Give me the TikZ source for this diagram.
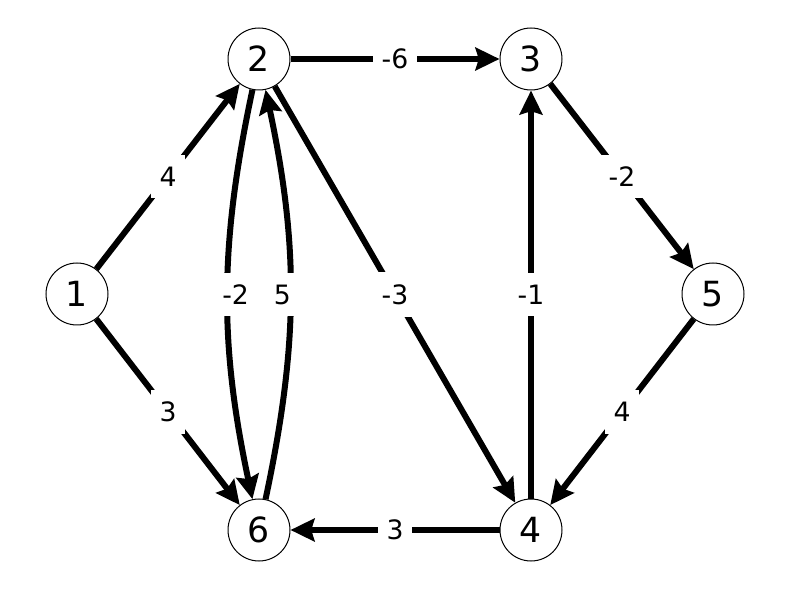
\documentclass[tikz,border=0pt]{standalone}
\usepackage{fontspec}
\setmainfont{DejaVu Sans}
\usetikzlibrary{arrows.meta}

\begin{document}
\begin{tikzpicture}[x=0.75pt, y=0.75pt,
    vertex/.style = {circle, draw, line width=0.75pt, minimum size=46.5pt, inner sep=0pt, font=\fontsize{26}{30}\selectfont},
    edge/.style = {line width=4.5pt, -{Stealth[length=18pt, width=17pt, inset=2.5pt]}},
    wt/.style = {fill=white, inner xsep=6.5pt, inner ysep=9pt, font=\fontsize{20}{24}\selectfont}]
    \useasboundingbox (0,0) rectangle (790,590);

    \node[vertex] (v1) at (77,296) {1};
    \node[vertex] (v2) at (259,531) {2};
    \node[vertex] (v3) at (531,531) {3};
    \node[vertex] (v4) at (531,60) {4};
    \node[vertex] (v5) at (713,296) {5};
    \node[vertex] (v6) at (259,60) {6};

    \draw[edge] (v1) -- node[wt] {4} (v2);
    \draw[edge] (v1) -- node[wt] {3} (v6);
    \draw[edge] (v2) -- node[wt] {-6} (v3);
    \draw[edge] (v2) -- node[wt] {-3} (v4);
    \draw[edge] (v2) to[bend right=12] node[wt, xshift=6pt] {-2} (v6);
    \draw[edge] (v6) to[bend right=12] node[wt, xshift=-6pt] {5} (v2);
    \draw[edge] (v3) -- node[wt] {-2} (v5);
    \draw[edge] (v4) -- node[wt] {-1} (v3);
    \draw[edge] (v5) -- node[wt] {4} (v4);
    \draw[edge] (v4) -- node[wt] {3} (v6);

\end{tikzpicture}
\end{document}
